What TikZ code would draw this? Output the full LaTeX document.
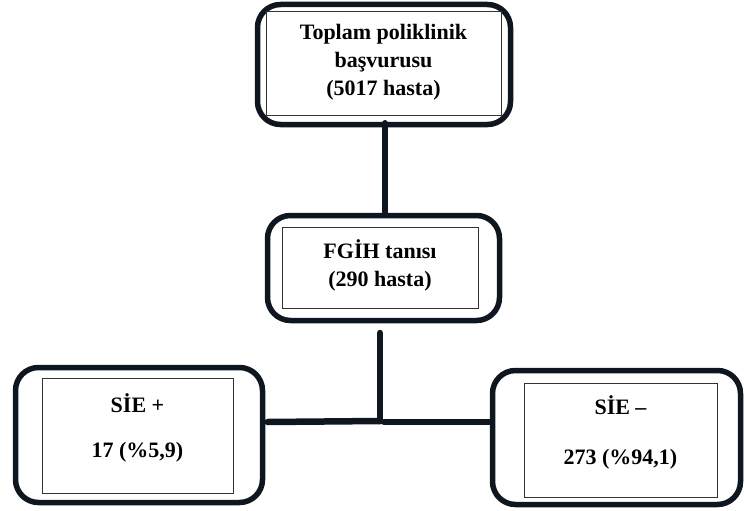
\documentclass[tikz,border=0pt]{standalone}
\usepackage{fontspec}
\setmainfont{Liberation Serif}
\definecolor{ink}{HTML}{0E1620}
\definecolor{thin}{HTML}{333333}
\begin{document}
\begin{tikzpicture}[x=1pt,y=-1pt,
  outerbox/.style={draw=ink,line width=5.5pt,rounded corners=23pt,inner sep=0pt},
  innerbox/.style={draw=thin,line width=1pt,inner sep=0pt},
  label/.style={font=\fontsize{22}{28}\selectfont\bfseries,align=center,inner sep=0pt,text=black},
  conn/.style={draw=ink,line width=6.5pt,line cap=round}]
\useasboundingbox (0,0) rectangle (744,511);
% boxes
\node[outerbox,minimum width=253pt,minimum height=120pt] (top) at (384,64.5) {};
\node[innerbox,minimum width=235pt,minimum height=103pt] (topin) at (383.5,63.5) {};
\node[label] (toptxt) at (383.5,62.5) {Toplam poliklinik\\başvurusu\\(5017 hasta)};

\node[outerbox,minimum width=232pt,minimum height=105pt] (mid) at (383.5,268) {};
\node[innerbox,minimum width=196pt,minimum height=81pt] (midin) at (380,267.5) {};
\node[label] (midtxt) at (380,265) {FGİH tanısı\\(290 hasta)};

\node[outerbox,minimum width=247pt,minimum height=135pt] (left) at (139,435) {};
\node[innerbox,minimum width=191pt,minimum height=115pt] (leftin) at (137.5,435.5) {};
\node[label] (lefttxt) at (137.5,427.5) {SİE +\\[17pt]17 (\%5,9)};

\node[outerbox,minimum width=248pt,minimum height=134pt] (right) at (616.5,437.5) {};
\node[innerbox,minimum width=193pt,minimum height=114pt] (rightin) at (620.5,440) {};
\node[label] (righttxt) at (620.5,432) {SİE –\\[22pt]273 (\%94,1)};

% connectors
\coordinate (j) at (380,421);
\coordinate (jr) at (384,422);
\draw[conn] (top.south -| 385,0) ++(0,-4) -- (385,212);
\draw[conn] (380,333) -- (j);
\draw[conn] (left.east) ++(2.5,-13) coordinate (le) -- (j);
\draw[conn] (jr) -- (490,422);
\end{tikzpicture}
\end{document}
